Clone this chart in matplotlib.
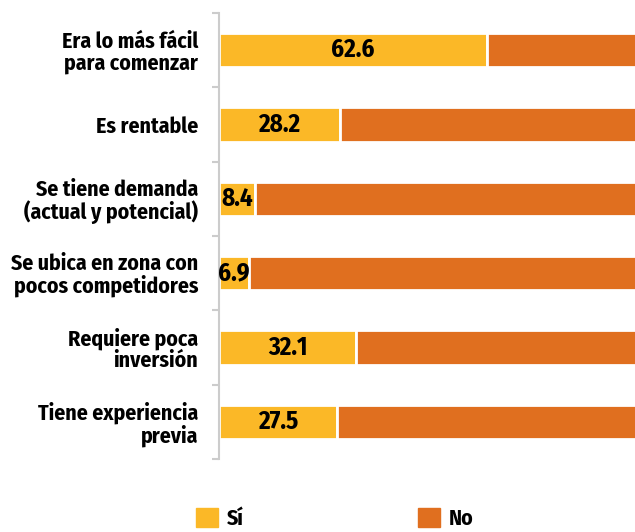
import matplotlib
matplotlib.use("Agg")
import matplotlib.pyplot as plt
from matplotlib.patches import Patch
import numpy as np

plt.rcParams['font.family'] = ['Fira Sans Condensed', 'DejaVu Sans']

categorias = ["Era lo más fácil\npara comenzar", "Es rentable",
              "Se tiene demanda\n(actual y potencial)",
              "Se ubica en zona con\npocos competidores",
              "Requiere poca\ninversión", "Tiene experiencia\nprevia"]
si = [62.6, 28.2, 8.4, 6.9, 32.1, 27.5]
no = [100 - v for v in si]

amarillo = "#FBB827"
naranja = "#E06F1F"

fig = plt.figure(figsize=(6.35, 5.32), dpi=100)
ax = fig.add_axes([0.345, 0.137, 0.655, 0.8385])

y = np.arange(len(categorias))
ax.barh(y, si, height=0.46, color=amarillo, edgecolor="white", linewidth=2)
ax.barh(y, no, left=si, height=0.46, color=naranja, edgecolor="white", linewidth=2)

for yi, v in zip(y, si):
    ax.text(v / 2, yi, f"{v}", ha="center", va="center",
            fontsize=18, fontweight="bold", color="black")

ax.set_xlim(0, 97.3)
ax.set_ylim(5.5, -0.5)
ax.set_xticks([])
ax.set_yticks(y)
ax.set_yticklabels(categorias, fontsize=15.7, fontweight="bold", linespacing=1.0)
ax.set_yticks(np.arange(-0.5, 6, 1), minor=True)
ax.tick_params(axis="y", which="major", length=0, pad=15)
ax.tick_params(axis="y", which="minor", length=5, color="#cccccc", width=1.5)
for s in ["top", "right", "bottom"]:
    ax.spines[s].set_visible(False)
ax.spines["left"].set_color("#cccccc")
ax.spines["left"].set_linewidth(1.5)

handles = [Patch(color=amarillo, label="Sí"), Patch(color=naranja, label="No")]
fig.legend(handles=handles, loc="lower left", bbox_to_anchor=(0.278, -0.032),
           ncol=2, frameon=False, handlelength=1.0, handleheight=1.0,
           handletextpad=0.4, columnspacing=8.0,
           prop={"size": 15.7, "weight": "bold"})

fig.savefig("out.png", dpi=100)
